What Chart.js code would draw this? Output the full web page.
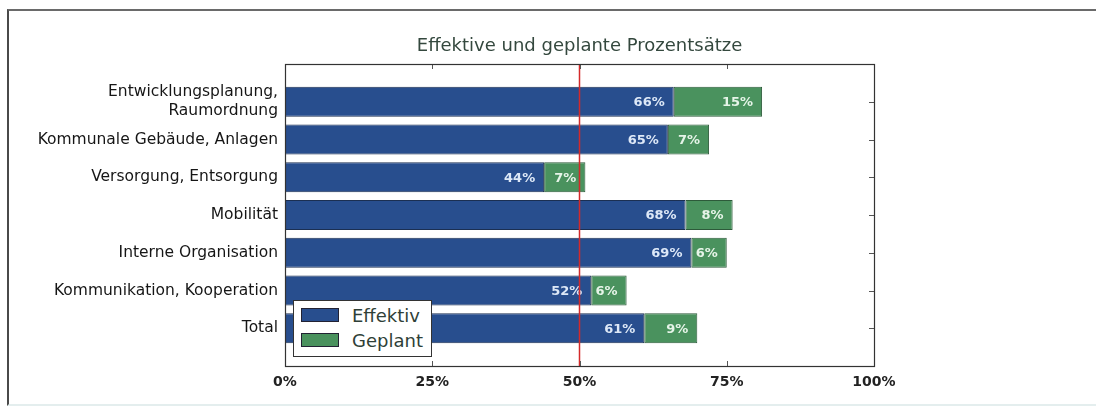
<!DOCTYPE html>
<html>
<head>
<meta charset="utf-8">
<script src="https://cdn.jsdelivr.net/npm/chart.js@4/dist/chart.umd.min.js"></script>
<style>
  html, body { margin: 0; padding: 0; background: #ffffff; }
  #wrap { position: relative; width: 1096px; height: 410px; overflow: hidden; }
  #frame { position: absolute; left: 7px; top: 9px; right: -4px; bottom: 4px;
           border-top: 2px solid #6a6a6a; border-left: 2px solid #4a4a4a;
           border-bottom: 2px solid #e4eeee; pointer-events: none; }
  canvas { position: absolute; left: 0; top: 0; }
  #legend { position: absolute; left: 293px; top: 300px; width: 139px; height: 57px;
            background: #ffffff; border: 1px solid #333; box-sizing: border-box;
            font-family: "DejaVu Sans", sans-serif; font-size: 18px; color: #2f3f37; }
  .item { position: absolute; left: 7px; height: 16px; display: flex; align-items: center; }
  .sw { width: 38px; height: 14px; box-sizing: border-box; border: 1px solid #223; margin-right: 13px; }
</style>
</head>
<body>
<div id="wrap">
  <canvas id="c" width="1096" height="410"></canvas>
  <div id="frame"></div>
  <div id="legend"></div>
</div>
<script>
const categories = [
  ["Entwicklungsplanung,", "Raumordnung"],
  "Kommunale Gebäude, Anlagen",
  "Versorgung, Entsorgung",
  "Mobilität",
  "Interne Organisation",
  "Kommunikation, Kooperation",
  "Total"
];
const effektiv = [66, 65, 44, 68, 69, 52, 61];
const geplant = [15, 7, 7, 8, 6, 6, 9];
const xTicks = [0, 25, 50, 75, 100];
const seriesNames = ["Effektiv", "Geplant"];
const colors = ["#284e8e", "#4a925e"];
const edgeColors = ["#1b2f52", "#2d5a3a"];
const labelColors = ["#dde8f7", "#e6f4e8"];
const targetLine = 50;

const FONT = '"DejaVu Sans", sans-serif';

const frameAndExtras = {
  id: 'frameAndExtras',
  afterDatasetsDraw(chart) {
    const ctx = chart.ctx;
    const a = chart.chartArea;
    const xs = chart.scales.x, ys = chart.scales.y;
    ctx.save();
    ctx.font = 'bold 13px ' + FONT;
    ctx.textAlign = 'right';
    ctx.textBaseline = 'middle';
    chart.data.datasets.forEach((ds, di) => {
      const meta = chart.getDatasetMeta(di);
      meta.data.forEach((bar, i) => {
        ctx.fillStyle = labelColors[di];
        ctx.fillText(ds.data[i].x + '%', bar.x - 9, bar.y + 1);
      });
    });
    const rx = xs.getPixelForValue(targetLine);
    ctx.strokeStyle = '#d42a2a';
    ctx.lineWidth = 1.5;
    ctx.beginPath();
    ctx.moveTo(rx, a.top);
    ctx.lineTo(rx, a.bottom);
    ctx.stroke();
    ctx.strokeStyle = '#555';
    ctx.lineWidth = 1;
    xTicks.forEach(v => {
      const px = Math.round(xs.getPixelForValue(v)) + 0.5;
      ctx.beginPath(); ctx.moveTo(px, a.top); ctx.lineTo(px, a.top + 5); ctx.stroke();
      ctx.beginPath(); ctx.moveTo(px, a.bottom); ctx.lineTo(px, a.bottom - 5); ctx.stroke();
    });
    categories.forEach((c, i) => {
      const py = Math.round(ys.getPixelForValue(i)) + 0.5;
      ctx.beginPath(); ctx.moveTo(a.right, py); ctx.lineTo(a.right - 5, py); ctx.stroke();
    });
    ctx.strokeStyle = '#333';
    ctx.lineWidth = 1.2;
    ctx.strokeRect(Math.round(a.left) + 0.5, Math.round(a.top) + 0.5,
                   Math.round(a.right - a.left), Math.round(a.bottom - a.top));
    ctx.restore();
  }
};

const datasets = [effektiv, geplant].map((arr, di) => ({
  label: seriesNames[di],
  data: arr.map((v, i) => ({ x: v, y: i })),
  backgroundColor: colors[di],
  borderColor: edgeColors[di],
  borderWidth: 1,
  borderSkipped: false,
  barPercentage: 0.8,
  categoryPercentage: 1.0
}));

new Chart(document.getElementById('c'), {
  type: 'bar',
  data: { datasets },
  options: {
    indexAxis: 'y',
    responsive: false,
    animation: false,
    layout: { padding: { left: 0, right: 222, top: 0, bottom: 0 } },
    plugins: {
      legend: { display: false },
      tooltip: { enabled: false },
      title: {
        display: true,
        text: 'Effektive und geplante Prozentsätze',
        fullSize: false,
        color: '#34483e',
        font: { family: FONT, size: 18, weight: 'normal', lineHeight: 1.2 },
        padding: { top: 36, bottom: 6.4 }
      }
    },
    scales: {
      x: {
        type: 'linear',
        stacked: true,
        min: 0, max: 100,
        offset: false,
        grid: { display: false, drawTicks: false, offset: false },
        border: { display: false },
        afterBuildTicks: s => { s.ticks = xTicks.map(v => ({ value: v })); },
        afterFit: s => { s.height = 44; },
        ticks: {
          padding: 8,
          color: '#222',
          font: { family: FONT, size: 14, weight: 'bold' },
          callback: v => v + '%'
        }
      },
      y: {
        type: 'linear',
        stacked: true,
        reverse: true,
        offset: false,
        min: -1, max: 7,
        grid: { display: false, drawTicks: false, offset: false },
        border: { display: false },
        afterBuildTicks: s => { s.ticks = categories.map((c, i) => ({ value: i })); },
        afterFit: s => { s.width = 285; },
        ticks: {
          padding: 7,
          color: '#161616',
          font: { family: FONT, size: 15.5, weight: 'normal', lineHeight: 1.2 },
          callback: v => categories[v]
        }
      }
    }
  },
  plugins: [frameAndExtras]
});

const lg = document.getElementById('legend');
seriesNames.forEach((n, i) => {
  const it = document.createElement('div');
  it.className = 'item';
  it.style.top = (i === 0 ? 6 : 31) + 'px';
  const sw = document.createElement('div');
  sw.className = 'sw';
  sw.style.background = colors[i];
  it.appendChild(sw);
  const t = document.createElement('span');
  t.textContent = n;
  it.appendChild(t);
  lg.appendChild(it);
});
</script>
</body>
</html>
